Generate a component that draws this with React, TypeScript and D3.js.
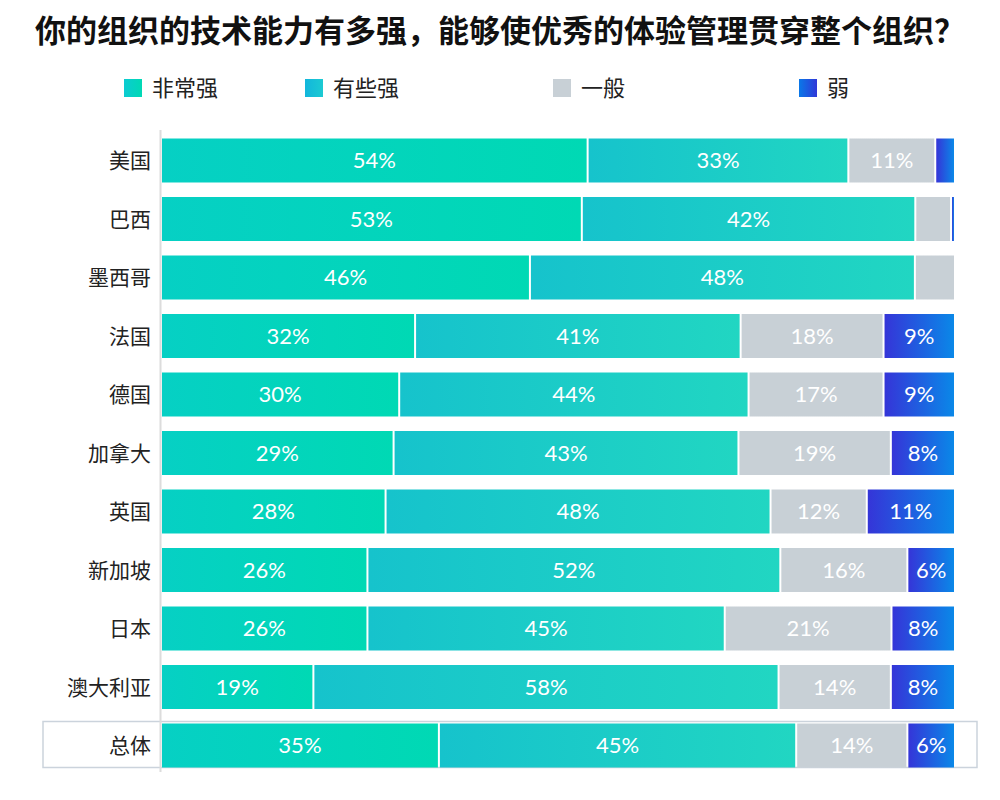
import React from "react";
import * as d3 from "d3";

const title = "你的组织的技术能力有多强，能够使优秀的体验管理贯穿整个组织？";
const categories = ["美国", "巴西", "墨西哥", "法国", "德国", "加拿大", "英国", "新加坡", "日本", "澳大利亚", "总体"];
const seriesNames = ["非常强", "有些强", "一般", "弱"];
const veryStrong = [54, 53, 46, 32, 30, 29, 28, 26, 26, 19, 35];
const somewhatStrong = [33, 42, 48, 41, 44, 43, 48, 52, 45, 58, 45];
const average = [11, 4.5, 5, 18, 17, 19, 12, 16, 21, 14, 14];
const weak = [2.5, 0.5, 0, 9, 9, 8, 11, 6, 8, 8, 6];
const labelThreshold = 6;

const gradients = [
  { id: "g0", from: "#06d0c4", to: "#00d9b4" },
  { id: "g1", from: "#16c3cc", to: "#21d6c2" },
  { id: "g2", from: "#c8d0d6", to: "#c8d0d6" },
  { id: "g3", from: "#3535d8", to: "#0a88e8" },
];
const legendGradients = [
  { id: "lg0", from: "#0ccbd2", to: "#00d9b4" },
  { id: "lg1", from: "#12b6dc", to: "#1ccad2" },
  { id: "lg2", from: "#c8d0d6", to: "#c8d0d6" },
  { id: "lg3", from: "#0a78e8", to: "#3038d8" },
];
const legendX = [124, 305, 553, 799];

const W = 1000;
const H = 800;

export default function App() {
  const rows = categories.map((c, i) => ({
    cat: c,
    [seriesNames[0]]: veryStrong[i],
    [seriesNames[1]]: somewhatStrong[i],
    [seriesNames[2]]: average[i],
    [seriesNames[3]]: weak[i],
  }));
  const stack = d3.stack<any>().keys(seriesNames).offset(d3.stackOffsetExpand);
  const series = stack(rows);
  const raw = [veryStrong, somewhatStrong, average, weak];

  const x = d3.scaleLinear().domain([0, 1]).range([162, 956]);
  const y = d3.scaleBand().domain(categories).range([131.25, 774.75]).paddingInner(0.248).paddingOuter(0.124);
  const bh = y.bandwidth();
  const totalCat = categories[categories.length - 1];

  return (
    <svg width={W} height={H} style={{ position: "absolute", left: 0, top: 0, background: "#fff" }}>
      <defs>
        {[...gradients, ...legendGradients].map((g) => (
          <linearGradient key={g.id} id={g.id} x1="0" x2="1" y1="0" y2="0">
            <stop offset="0" stopColor={g.from} />
            <stop offset="1" stopColor={g.to} />
          </linearGradient>
        ))}
      </defs>
      <rect width={W} height={H} fill="#fff" />
      <text x={500} y={42} textAnchor="middle" fontFamily="'Noto Sans CJK SC', sans-serif" fontWeight={700} fontSize={31} fill="#111">
        {title}
      </text>
      {seriesNames.map((s, i) => (
        <g key={s}>
          <rect x={legendX[i]} y={79} width={18} height={18} fill={`url(#lg${i})`} />
          <text x={legendX[i] + 28} y={96} fontFamily="'Noto Sans CJK SC', sans-serif" fontSize={22} fill="#222">
            {s}
          </text>
        </g>
      ))}
      <rect
        x={43}
        y={(y(totalCat) as number) - 2}
        width={934}
        height={bh + 2}
        fill="none"
        stroke="#cbd3dc"
        strokeWidth={1.5}
      />
      <line x1={160.5} x2={160.5} y1={130} y2={772} stroke="#dcdcdc" strokeWidth={2} />
      {categories.map((c) => (
        <text
          key={c}
          x={151}
          y={(y(c) as number) + bh / 2}
          dy="0.36em"
          textAnchor="end"
          fontFamily="'Noto Sans CJK SC', sans-serif"
          fontSize={21}
          fill="#222"
        >
          {c}
        </text>
      ))}
      {series.map((s, si) => (
        <g key={s.key}>
          {s.map((d, i) => {
            const x0 = x(d[0]);
            const x1 = x(d[1]);
            const w = x1 - x0 - 2;
            if (raw[si][i] <= 0 || w <= 0) return null;
            const cy = (y(categories[i]) as number) + bh / 2;
            return (
              <g key={categories[i]}>
                <rect x={x0} y={y(categories[i])} width={Math.max(w, 1.5)} height={bh} fill={`url(#g${si})`} />
                {raw[si][i] >= labelThreshold && (
                  <text
                    x={x0 + w / 2}
                    y={cy}
                    dy="0.36em"
                    textAnchor="middle"
                    fontFamily="Lato, 'Noto Sans', sans-serif"
                    fontSize={22}
                    fill="#fff"
                  >
                    {`${raw[si][i]}%`}
                  </text>
                )}
              </g>
            );
          })}
        </g>
      ))}
    </svg>
  );
}
